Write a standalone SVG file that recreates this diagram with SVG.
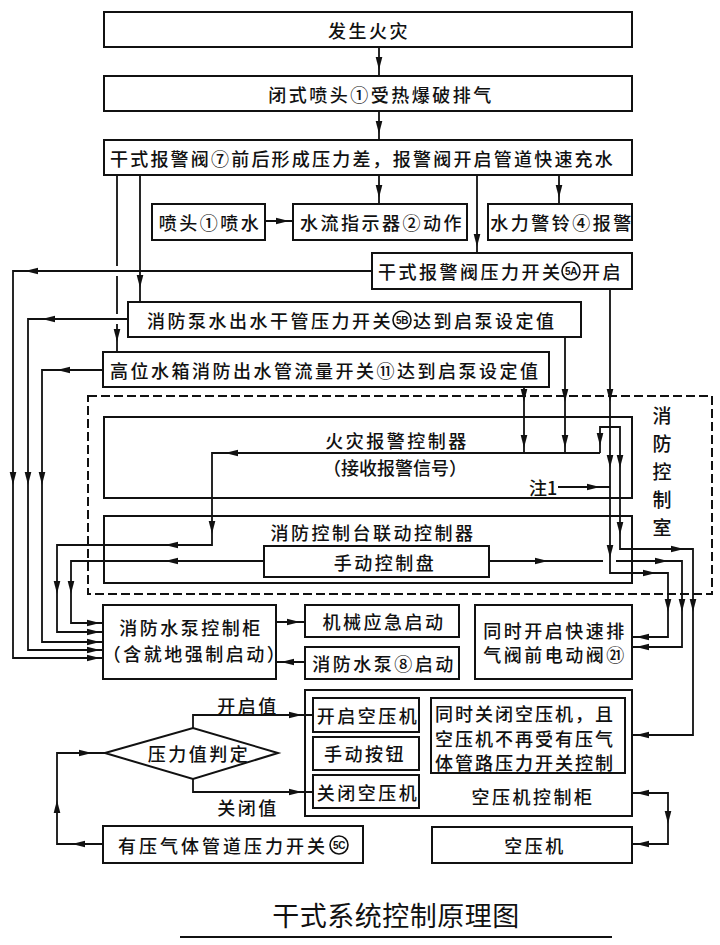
<svg xmlns="http://www.w3.org/2000/svg" xmlns:xlink="http://www.w3.org/1999/xlink" width="720" height="945" viewBox="0 0 720 945">
<style>
.b{fill:none;stroke:#111;stroke-width:2}
.l{fill:none;stroke:#111;stroke-width:1.8}
.d{fill:none;stroke:#111;stroke-width:2;stroke-dasharray:9,4}
text{font-family:"Noto Sans CJK SC","Noto Sans",sans-serif;font-size:18px;font-weight:500;fill:#111;dominant-baseline:central}
.t{letter-spacing:2.5px}
.m{text-anchor:middle}
.v{font-size:19px;text-anchor:middle}
.c{font-family:"Liberation Sans",sans-serif;font-size:10px;font-weight:bold;text-anchor:middle;letter-spacing:-0.5px}
.ttl{font-size:27px;font-weight:400;letter-spacing:0.5px;text-anchor:middle}
</style>
<defs>
<path id="a" d="M0,0 L-13,-3.3 L-13,3.3 Z" fill="#111"/>
</defs>
<rect width="720" height="945" fill="#fff"/>

<g id="n1"><rect class="b" x="104" y="12" width="528" height="35"/><text class="t m" x="369" y="30">发生火灾</text></g>
<g id="n2"><rect class="b" x="104" y="76" width="528" height="35"/><text class="t m" x="381" y="94">闭式喷头①受热爆破排气</text></g>
<g id="n3"><rect class="b" x="104" y="140" width="528" height="35"/><text x="110" y="158" style="letter-spacing:2.2px">干式报警阀⑦前后形成压力差，报警阀开启管道快速充水</text></g>
<g id="n4"><rect class="b" x="152" y="204" width="113" height="36"/><text class="t m" x="210" y="222">喷头①喷水</text></g>
<g id="n5"><rect class="b" x="293" y="204" width="174" height="36"/><text class="t m" x="382" y="222">水流指示器②动作</text></g>
<g id="n6"><rect class="b" x="488" y="204" width="144" height="36"/><text class="t m" x="562" y="222">水力警铃④报警</text></g>
<g id="n7"><rect class="b" x="372" y="253" width="260" height="36"/><text class="t" x="378" y="271">干式报警阀压力开关</text><circle cx="571" cy="271" r="9" fill="none" stroke="#111" stroke-width="1.6"/><text class="c" x="571" y="271.5">5A</text><text class="t" x="582" y="271">开启</text></g>
<g id="n8"><rect class="b" x="128" y="302" width="453" height="35"/><text class="t" x="147" y="320">消防泵水出水干管压力开关</text><circle cx="402" cy="320" r="9" fill="none" stroke="#111" stroke-width="1.6"/><text class="c" x="402" y="320.5">5B</text><text class="t" x="413" y="320">达到启泵设定值</text></g>
<g id="n9"><rect class="b" x="103" y="352" width="446" height="35"/><text class="t" x="110" y="370">高位水箱消防出水管流量开关⑪达到启泵设定值</text></g>

<g id="room"><rect class="d" x="88" y="396" width="624" height="198"/>
<text class="v" x="662" y="414">消</text><text class="v" x="662" y="442">防</text><text class="v" x="662" y="470">控</text><text class="v" x="662" y="498">制</text><text class="v" x="662" y="526">室</text></g>
<g id="n10"><rect class="b" x="104" y="417" width="528" height="81"/><text class="t m" x="397" y="440">火灾报警控制器</text><text class="m" x="395" y="467">（接收报警信号）</text></g>
<g id="n11"><rect class="b" x="104" y="516" width="528" height="67"/><text class="t m" x="373" y="532">消防控制台联动控制器</text></g>
<g id="n12"><rect class="b" x="264" y="546" width="225" height="31"/><text class="t m" x="385" y="562">手动控制盘</text></g>
<g id="note"><text x="529" y="487">注1</text></g>

<g id="n13"><rect class="b" x="103" y="605" width="173" height="74"/><text class="t m" x="191" y="627">消防水泵控制柜</text><text class="t m" x="195" y="653">（含就地强制启动）</text></g>
<g id="n14"><rect class="b" x="305" y="605" width="154" height="32"/><text class="t m" x="384" y="621">机械应急启动</text></g>
<g id="n15"><rect class="b" x="305" y="647" width="154" height="32"/><text class="t m" x="384" y="663">消防水泵⑧启动</text></g>
<g id="n16"><rect class="b" x="475" y="605" width="157" height="74"/><text class="t m" x="555" y="630">同时开启快速排</text><text class="t m" x="555" y="654">气阀前电动阀㉑</text></g>

<g id="n17"><rect class="b" x="305" y="690" width="327" height="126"/><text class="t m" x="533" y="796">空压机控制柜</text>
<rect class="b" x="313" y="698" width="106" height="34"/><text class="t m" x="368" y="715">开启空压机</text>
<rect class="b" x="313" y="737" width="106" height="33"/><text class="t m" x="365" y="753">手动按钮</text>
<rect class="b" x="313" y="775" width="106" height="33"/><text class="t m" x="368" y="792">关闭空压机</text>
<rect class="b" x="431" y="698" width="194" height="75"/><text x="435" y="713" style="letter-spacing:2px">同时关闭空压机，且</text><text x="435" y="738" style="letter-spacing:2px">空压机不再受有压气</text><text x="435" y="762" style="letter-spacing:2px">体管路压力开关控制</text></g>
<g id="n18"><polygon class="b" points="105,753 193,728 278,753 193,779"/><text class="t m" x="199" y="753">压力值判定</text></g>
<g id="n19"><rect class="b" x="103" y="826" width="260" height="37"/><text x="118" y="845" style="letter-spacing:3px">有压气体管道压力开关</text><circle cx="339" cy="845" r="9" fill="none" stroke="#111" stroke-width="1.6"/><text class="c" x="339" y="845.5">5C</text></g>
<g id="n20"><rect class="b" x="432" y="827" width="200" height="36"/><text class="t m" x="535" y="845">空压机</text></g>
<g id="title"><text class="ttl" x="396" y="914">干式系统控制原理图</text><line x1="180" y1="937" x2="612" y2="937" stroke="#111" stroke-width="2"/></g>

<g id="connectors">
<path class="l" d="M379,47V76M379,111V140M379,175V204M559,175V204M477,175V253M265,221H293M140,175V302"/>
<path class="l" d="M117,175V266M117,276V314M117,324V352"/>
<path class="l" d="M372,271H13V658H103M128,319H28V650H103M103,370H42V642H103"/>
<path class="l" d="M600,453H212V545H57V632H103M264,561H71V623H103"/>
<path class="l" d="M524,387V453M565,337V453M610,289V573H668V637H632M600,453V427H620V549H693V735H632"/>
<path class="l" d="M489,561H603M616,561H682V647H632M558,487H610"/>
<path class="l" d="M276,622H305M305,662H276"/>
<path class="l" d="M632,793H668V844H632"/>
<path class="l" d="M103,844H57V753H105M193,728V715H313M193,779V792H313"/>
<g>
<use xlink:href="#a" transform="translate(379,70) rotate(90)"/>
<use xlink:href="#a" transform="translate(379,134) rotate(90)"/>
<use xlink:href="#a" transform="translate(379,198) rotate(90)"/>
<use xlink:href="#a" transform="translate(559,198) rotate(90)"/>
<use xlink:href="#a" transform="translate(477,247) rotate(90)"/>
<use xlink:href="#a" transform="translate(289,221)"/>
<use xlink:href="#a" transform="translate(140,288) rotate(90)"/>
<use xlink:href="#a" transform="translate(117,342) rotate(90)"/>
<use xlink:href="#a" transform="translate(25,271) rotate(180)"/>
<use xlink:href="#a" transform="translate(42,319) rotate(180)"/>
<use xlink:href="#a" transform="translate(57,370) rotate(180)"/>
<use xlink:href="#a" transform="translate(13,485) rotate(90)"/>
<use xlink:href="#a" transform="translate(28,485) rotate(90)"/>
<use xlink:href="#a" transform="translate(42,485) rotate(90)"/>
<use xlink:href="#a" transform="translate(225,453) rotate(180)"/>
<use xlink:href="#a" transform="translate(212,534) rotate(90)"/>
<use xlink:href="#a" transform="translate(165,545) rotate(180)"/>
<use xlink:href="#a" transform="translate(165,561) rotate(180)"/>
<use xlink:href="#a" transform="translate(57,594) rotate(90)"/>
<use xlink:href="#a" transform="translate(71,594) rotate(90)"/>
<use xlink:href="#a" transform="translate(100,623)"/>
<use xlink:href="#a" transform="translate(100,632)"/>
<use xlink:href="#a" transform="translate(100,642)"/>
<use xlink:href="#a" transform="translate(100,650)"/>
<use xlink:href="#a" transform="translate(100,658)"/>
<use xlink:href="#a" transform="translate(524,402) rotate(90)"/>
<use xlink:href="#a" transform="translate(565,402) rotate(90)"/>
<use xlink:href="#a" transform="translate(610,402) rotate(90)"/>
<use xlink:href="#a" transform="translate(524,448) rotate(90)"/>
<use xlink:href="#a" transform="translate(565,448) rotate(90)"/>
<use xlink:href="#a" transform="translate(600,446) rotate(90)"/>
<use xlink:href="#a" transform="translate(610,468) rotate(90)"/>
<use xlink:href="#a" transform="translate(620,468) rotate(90)"/>
<use xlink:href="#a" transform="translate(620,535) rotate(90)"/>
<use xlink:href="#a" transform="translate(610,558) rotate(90)"/>
<use xlink:href="#a" transform="translate(600,487)"/>
<use xlink:href="#a" transform="translate(548,561)"/>
<use xlink:href="#a" transform="translate(668,561)"/>
<use xlink:href="#a" transform="translate(684,549)"/>
<use xlink:href="#a" transform="translate(656,573)"/>
<use xlink:href="#a" transform="translate(668,612) rotate(90)"/>
<use xlink:href="#a" transform="translate(682,612) rotate(90)"/>
<use xlink:href="#a" transform="translate(693,612) rotate(90)"/>
<use xlink:href="#a" transform="translate(636,637) rotate(180)"/>
<use xlink:href="#a" transform="translate(636,647) rotate(180)"/>
<use xlink:href="#a" transform="translate(636,735) rotate(180)"/>
<use xlink:href="#a" transform="translate(300,622)"/>
<use xlink:href="#a" transform="translate(281,662) rotate(180)"/>
<use xlink:href="#a" transform="translate(636,793) rotate(180)"/>
<use xlink:href="#a" transform="translate(668,824) rotate(90)"/>
<use xlink:href="#a" transform="translate(636,844) rotate(180)"/>
<use xlink:href="#a" transform="translate(72,844) rotate(180)"/>
<use xlink:href="#a" transform="translate(57,800) rotate(-90)"/>
<use xlink:href="#a" transform="translate(92,753)"/>
<use xlink:href="#a" transform="translate(302,715)"/>
<use xlink:href="#a" transform="translate(302,792)"/>
</g>
</g>
<g id="labels"><text class="t m" x="248" y="705">开启值</text><text class="t m" x="248" y="807">关闭值</text></g>
</svg>
